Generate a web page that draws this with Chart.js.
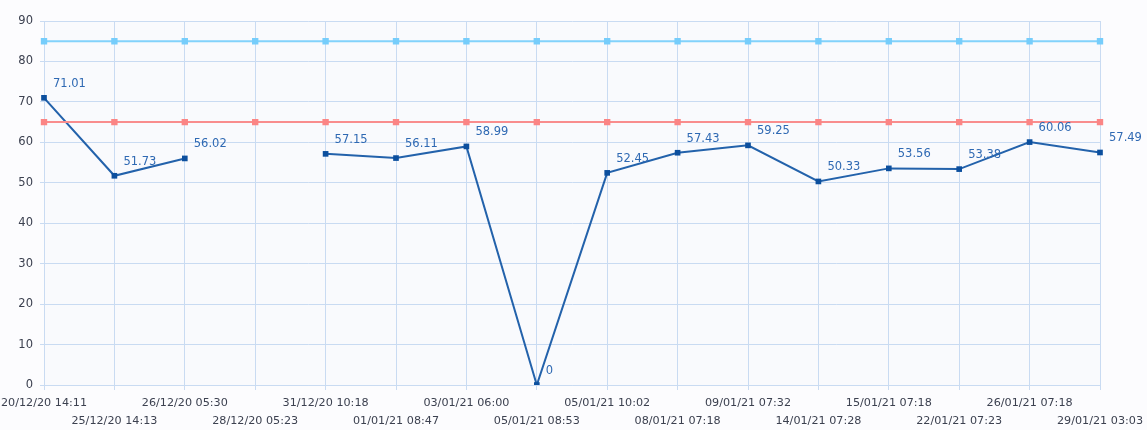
<!DOCTYPE html>
<html>
<head>
<meta charset="utf-8">
<script src="https://cdn.jsdelivr.net/npm/chart.js@4/dist/chart.umd.min.js"></script>
<style>
  html, body { margin: 0; padding: 0; background: #fcfcfe; }
  #wrap { width: 1147px; height: 430px; }
</style>
</head>
<body>
<div id="wrap"><canvas id="c" width="1147" height="430"></canvas></div>
<script>
// Reading timestamps (x axis)
const timestamps = [
  '20/12/20 14:11', '25/12/20 14:13', '26/12/20 05:30', '28/12/20 05:23',
  '31/12/20 10:18', '01/01/21 08:47', '03/01/21 06:00', '05/01/21 08:53',
  '05/01/21 10:02', '08/01/21 07:18', '09/01/21 07:32', '14/01/21 07:28',
  '15/01/21 07:18', '22/01/21 07:23', '26/01/21 07:18', '29/01/21 03:03'
];

// Measured values (null = no reading)
const measured = [71.01, 51.73, 56.02, null, 57.15, 56.11, 58.99, 0,
                  52.45, 57.43, 59.25, 50.33, 53.56, 53.38, 60.06, 57.49];

// Limit lines
const upperLimit = [85, 85, 85, 85, 85, 85, 85, 85, 85, 85, 85, 85, 85, 85, 85, 85];
const lowerLimit = [65, 65, 65, 65, 65, 65, 65, 65, 65, 65, 65, 65, 65, 65, 65, 65];

// Y axis range
const yMin = 0, yMax = 90, yStep = 10;

const GRID = '#c9dbf2';
const FONT = 'DejaVu Sans, Verdana, sans-serif';

// Plot area tint
const plotBg = {
  id: 'plotBg',
  beforeDraw(chart) {
    const { ctx, chartArea: a } = chart;
    ctx.save();
    ctx.fillStyle = '#f9fafd';
    ctx.fillRect(a.left, a.top, a.right - a.left, a.bottom - a.top);
    ctx.restore();
  }
};

// Value labels next to the measured points
const valueLabels = {
  id: 'valueLabels',
  afterDatasetsDraw(chart) {
    const { ctx } = chart;
    const meta = chart.getDatasetMeta(2);
    ctx.save();
    ctx.font = '11.5px ' + FONT;
    ctx.fillStyle = '#2f69b3';
    ctx.textAlign = 'left';
    ctx.textBaseline = 'middle';
    meta.data.forEach((pt, i) => {
      const v = measured[i];
      if (v === null || v === undefined) return;
      ctx.fillText(String(v), pt.x + 9, pt.y - 14);
    });
    ctx.restore();
  }
};

new Chart(document.getElementById('c'), {
  type: 'line',
  data: {
    labels: timestamps,
    datasets: [
      {
        data: upperLimit,
        borderColor: '#82d2fb',
        backgroundColor: '#76cdfb',
        borderWidth: 2,
        pointStyle: 'rect',
        pointRadius: 4.5,
        pointBorderWidth: 0,
        tension: 0
      },
      {
        data: lowerLimit,
        borderColor: '#f98d8d',
        backgroundColor: '#fb8585',
        borderWidth: 2,
        pointStyle: 'rect',
        pointRadius: 4.5,
        pointBorderWidth: 0,
        tension: 0
      },
      {
        data: measured,
        borderColor: '#2362ab',
        backgroundColor: '#0c4f9e',
        borderWidth: 2,
        pointStyle: 'rect',
        pointRadius: 4,
        pointBorderWidth: 0,
        spanGaps: false,
        tension: 0
      }
    ]
  },
  options: {
    responsive: false,
    animation: false,
    events: [],
    layout: { padding: { top: 21, right: 47, bottom: 0, left: 0 } },
    plugins: {
      legend: { display: false },
      tooltip: { enabled: false }
    },
    scales: {
      x: {
        offset: false,
        grid: { color: GRID, lineWidth: 1, tickLength: 5, drawTicks: true },
        border: { color: GRID },
        ticks: {
          autoSkip: false,
          maxRotation: 0,
          minRotation: 0,
          padding: 4,
          color: '#3c4150',
          font: { family: FONT, size: 11.2, lineHeight: 18 / 11.2 },
          callback(value, index) {
            const t = timestamps[index];
            return index % 2 === 0 ? t : ['', t];
          }
        },
        afterFit(scale) {
          scale.paddingLeft = 0;
          scale.paddingRight = 0;
          scale.height = 45;
        }
      },
      y: {
        min: yMin,
        max: yMax,
        grid: { color: GRID, lineWidth: 1, tickLength: 4 },
        border: { color: GRID },
        ticks: {
          stepSize: yStep,
          padding: 7,
          color: '#3c4150',
          font: { family: FONT, size: 11.5 }
        },
        afterFit(scale) {
          scale.width = 44;
          scale.paddingTop = 0;
          scale.paddingBottom = 0;
        }
      }
    }
  },
  plugins: [plotBg, valueLabels]
});
</script>
</body>
</html>
